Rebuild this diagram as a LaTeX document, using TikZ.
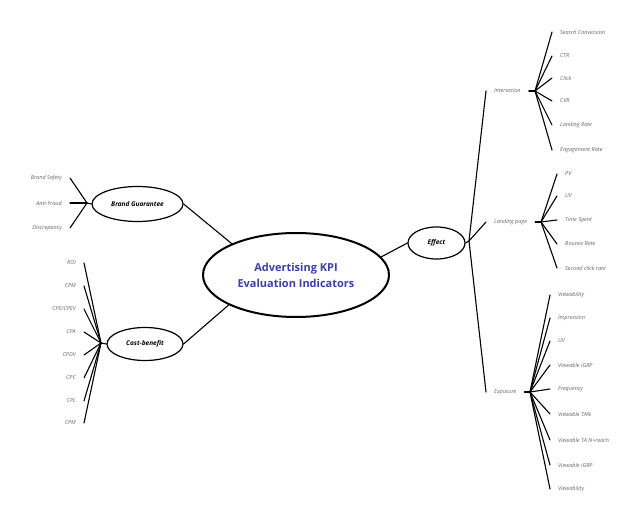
\documentclass[tikz,border=0pt]{standalone}
\usepackage{fontspec}
\setmainfont{Open Sans}
\usetikzlibrary{shapes.geometric}
\definecolor{leafgray}{RGB}{100,100,100}
\definecolor{mainblue}{RGB}{62,62,168}
\begin{document}
\begin{tikzpicture}[x=1pt,y=-1pt,
  conn/.style={line width=1.1pt, black, line cap=round},
  leafr/.style={anchor=west, inner xsep=8pt, inner ysep=0pt, font=\fontsize{5.5}{6.5}\selectfont\itshape, text=leafgray},
  leafl/.style={anchor=east, inner xsep=8pt, inner ysep=0pt, font=\fontsize{5.5}{6.5}\selectfont\itshape, text=leafgray},
  topic/.style={ellipse, draw, line width=1.2pt, inner sep=0pt, font=\fontsize{6.5}{8}\selectfont\bfseries\itshape},
  root/.style={ellipse, draw, line width=2pt, inner sep=0pt, align=center, text=mainblue, font=\fontsize{11}{16}\selectfont\bfseries}
]
\useasboundingbox (0,0) rectangle (640,521);
% main nodes
\node[root, minimum width=186pt, minimum height=84pt] (root) at (296,275) {Advertising KPI\\Evaluation Indicators};
\node[topic, minimum width=91pt, minimum height=35pt] (bg) at (137.5,204) {Brand Guarantee};
\node[topic, minimum width=76pt, minimum height=33pt] (cb) at (145,344) {Cost-benefit};
\node[topic, minimum width=57pt, minimum height=32pt] (eff) at (436.5,243) {Effect};
\draw[conn] (root.154) -- (bg.east);
\draw[conn] (root.204) -- (cb.east);
\draw[conn] (root.12) -- (eff.west);
% Brand Guarantee
\coordinate (bj) at (87,203);
\draw[conn] (bj) -- (bg.west);
\node[leafl] (bs) at (70,178) {Brand Safety};
\node[leafl] (af) at (70,203) {Anti-Fraud};
\node[leafl] (dc) at (70,228) {Discrepancy};
\foreach \n in {bs,af,dc} \draw[conn] (bj) -- (\n.east);
% Cost-benefit
\coordinate (cj) at (101,343);
\draw[conn] (cj) -- (cb.west);
\node[leafl] (c1) at (84,263) {ROI};
\node[leafl] (c2) at (84,286) {CPM};
\node[leafl] (c3) at (84,309) {CPE/CPEV};
\node[leafl] (c4) at (84,332) {CPA};
\node[leafl] (c5) at (84,355) {CPDV};
\node[leafl] (c6) at (84,378) {CPC};
\node[leafl] (c7) at (84,401) {CPL};
\node[leafl] (c8) at (84,423) {CPM};
\foreach \n in {c1,c2,c3,c4,c5,c6,c7,c8} \draw[conn] (cj) -- (\n.east);
% Effect
\coordinate (ej) at (469,241);
\draw[conn] (eff.east) -- (ej);
\node[leafr] (int) at (486,91) {Interaction};
\node[leafr] (lp) at (486,222) {Landing page};
\node[leafr] (exp) at (486,392) {Exposure};
\foreach \n in {int,lp,exp} \draw[conn] (ej) -- (\n.west);
% Interaction
\coordinate (ij) at (535,91);
\draw[conn] (int.east) -- (ij);
\node[leafr] (i1) at (552,32) {Search Conversion};
\node[leafr] (i2) at (552,56) {CTR};
\node[leafr] (i3) at (552,78) {Click};
\node[leafr] (i4) at (552,101) {CVR};
\node[leafr] (i5) at (552,125) {Landing Rate};
\node[leafr] (i6) at (552,150) {Engagement Rate};
\foreach \n in {i1,i2,i3,i4,i5,i6} \draw[conn] (ij) -- (\n.west);
% Landing page
\coordinate (lj) at (541,222);
\draw[conn] (lp.east) -- (lj);
\node[leafr] (l1) at (557,174) {PV};
\node[leafr] (l2) at (557,196) {UV};
\node[leafr] (l3) at (557,220) {Time Spent};
\node[leafr] (l4) at (557,244) {Bounce Rate};
\node[leafr] (l5) at (557,268) {Second click rate};
\foreach \n in {l1,l2,l3,l4,l5} \draw[conn] (lj) -- (\n.west);
% Exposure
\coordinate (xj) at (530,392);
\draw[conn] (exp.east) -- (xj);
\node[leafr] (x1) at (550,295) {Viewability};
\node[leafr] (x2) at (550,318) {Impression};
\node[leafr] (x3) at (550,341) {UV};
\node[leafr] (x4) at (550,365) {Viewable iGRP};
\node[leafr] (x5) at (550,389) {Frequency};
\node[leafr] (x6) at (550,414) {Viewable TA\%};
\node[leafr] (x7) at (550,440) {Viewable TA N+reach};
\node[leafr] (x8) at (550,465) {Viewable iGRP};
\node[leafr] (x9) at (550,489) {Viewability};
\foreach \n in {x1,x2,x3,x4,x5,x6,x7,x8,x9} \draw[conn] (xj) -- (\n.west);
\end{tikzpicture}
\end{document}
